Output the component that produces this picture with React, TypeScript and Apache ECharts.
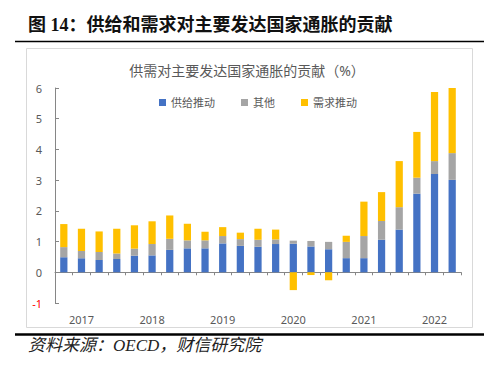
import React, { useEffect, useRef } from "react";
import * as echarts from "echarts";

const categories = [
  "2017Q1", "2017Q2", "2017Q3", "2017Q4",
  "2018Q1", "2018Q2", "2018Q3", "2018Q4",
  "2019Q1", "2019Q2", "2019Q3", "2019Q4",
  "2020Q1", "2020Q2", "2020Q3", "2020Q4",
  "2021Q1", "2021Q2", "2021Q3", "2021Q4",
  "2022Q1", "2022Q2", "2022Q3",
];
const supplyDriven = [
  0.49, 0.46, 0.40, 0.43,
  0.54, 0.55, 0.73, 0.78,
  0.78, 0.94, 0.86, 0.83,
  0.92, 0.93, 0.84, 0.75,
  0.46, 0.46, 1.06, 1.39,
  2.56, 3.20, 3.01,
];
const otherFactors = [
  0.33, 0.23, 0.26, 0.18,
  0.23, 0.37, 0.36, 0.26,
  0.26, 0.24, 0.22, 0.23,
  0.15, 0.10, 0.18, 0.24,
  0.53, 0.72, 0.61, 0.73,
  0.52, 0.42, 0.87,
];
const demandDriven = [
  0.75, 0.73, 0.67, 0.81,
  0.76, 0.74, 0.76, 0.54,
  0.28, 0.29, 0.21, 0.36,
  0.32, -0.58, -0.09, -0.26,
  0.20, 1.12, 0.94, 1.50,
  1.49, 2.25, 2.12,
];
const seriesNames = ["供给推动", "其他", "需求推动"];
const yMin = -1;
const yMax = 6;
const yInterval = 1;

const figureTitle = "图 14：供给和需求对主要发达国家通胀的贡献";
const chartTitle = "供需对主要发达国家通胀的贡献（%）";
const sourceNote = "资料来源：OECD，财信研究院";

const FONT = "'Noto Sans', 'Noto Sans CJK SC', sans-serif";
const AXIS_COLOR = "#868686";
const TEXT_COLOR = "#595959";

export default function App() {
  const ref = useRef<HTMLDivElement>(null);

  useEffect(() => {
    if (!ref.current) return;
    const chart = echarts.init(ref.current, null, { renderer: "svg" });
    const option: any = {
      animation: false,
      backgroundColor: "#ffffff",
      textStyle: { fontFamily: FONT },
      color: ["#4472C4", "#A5A5A5", "#FFC000"],
      graphic: [
        {
          type: "text",
          left: 28,
          top: 16,
          style: {
            text: figureTitle,
            font: "bold 18px 'Liberation Serif', 'Noto Sans CJK SC', serif",
            fill: "#111111",
          },
        },
        {
          type: "line",
          shape: { x1: 15, y1: 41.5, x2: 484, y2: 41.5 },
          style: { stroke: "#000000", lineWidth: 1.5 },
        },
        {
          type: "rect",
          shape: { x: 26.5, y: 48.5, width: 446, height: 279 },
          style: { fill: "none", stroke: "#d9d9d9", lineWidth: 1 },
        },
        {
          type: "text",
          x: 247,
          y: 70,
          style: {
            text: chartTitle,
            font: "14px " + FONT,
            fill: TEXT_COLOR,
            textAlign: "center",
            textVerticalAlign: "middle",
          },
        },
        {
          type: "line",
          shape: { x1: 15, y1: 334.5, x2: 484, y2: 334.5 },
          style: { stroke: "#000000", lineWidth: 2.5 },
        },
        {
          type: "text",
          left: 28,
          top: 337,
          style: {
            text: sourceNote,
            font: "italic 17px 'Liberation Serif', 'Noto Sans CJK SC', serif",
            fill: "#222222",
          },
        },
      ],
      legend: {
        data: seriesNames,
        left: 154,
        top: 92,
        icon: "rect",
        itemWidth: 7,
        itemHeight: 7,
        itemGap: 26,
        textStyle: { fontSize: 11, color: TEXT_COLOR, fontFamily: FONT },
      },
      grid: { left: 55, right: 39, top: 88, bottom: 66, containLabel: false },
      xAxis: [
        {
          type: "category",
          data: categories,
          axisLine: { show: true, onZero: true, lineStyle: { color: AXIS_COLOR, width: 1 } },
          axisTick: { show: true, interval: 0, length: 3, lineStyle: { color: AXIS_COLOR } },
          axisLabel: { show: false },
          splitLine: { show: false },
        },
        {
          type: "category",
          data: categories,
          position: "bottom",
          axisLine: { show: false, onZero: false },
          axisTick: { show: false },
          axisLabel: {
            interval: (index: number) => index % 4 === 1,
            formatter: (v: string) => v.slice(0, 4),
            margin: 11,
            fontSize: 11,
            color: TEXT_COLOR,
            fontFamily: FONT,
          },
          splitLine: { show: false },
        },
      ],
      yAxis: {
        type: "value",
        min: yMin,
        max: yMax,
        interval: yInterval,
        axisLine: { show: true, lineStyle: { color: AXIS_COLOR, width: 1 } },
        axisTick: { show: true, inside: true, length: 4, lineStyle: { color: AXIS_COLOR } },
        splitLine: { show: false },
        axisLabel: {
          margin: 13,
          fontSize: 11,
          fontFamily: FONT,
          color: (v: any) => (Number(v) < 0 ? "#FF0000" : TEXT_COLOR),
        },
      },
      series: [
        { name: seriesNames[0], type: "bar", stack: "total", barWidth: "41%", data: supplyDriven },
        { name: seriesNames[1], type: "bar", stack: "total", barWidth: "41%", data: otherFactors },
        { name: seriesNames[2], type: "bar", stack: "total", barWidth: "41%", data: demandDriven },
      ],
    };
    chart.setOption(option);
    return () => chart.dispose();
  }, []);

  return (
    <div
      ref={ref}
      style={{ position: "absolute", left: 0, top: 0, width: 500, height: 369, background: "#fff" }}
    />
  );
}
